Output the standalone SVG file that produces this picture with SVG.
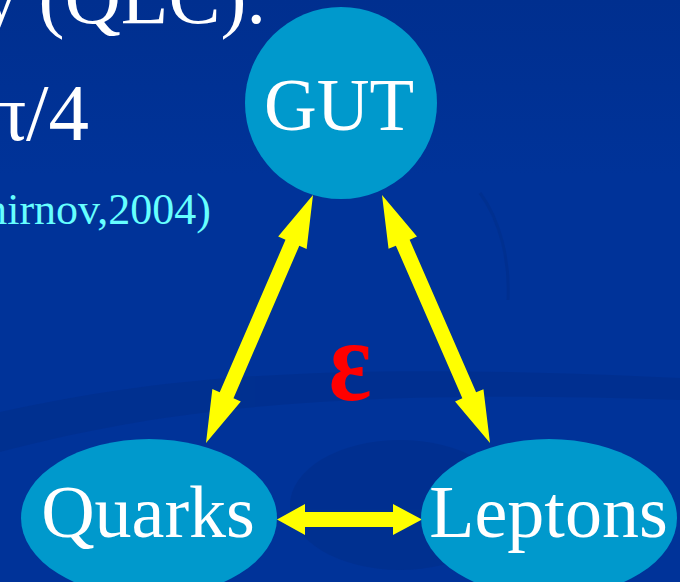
<svg xmlns="http://www.w3.org/2000/svg" width="680" height="582" viewBox="0 0 680 582">
<defs>
<linearGradient id="bg" x1="0" y1="0" x2="0" y2="1">
<stop offset="0" stop-color="#002f8f"/>
<stop offset="0.3" stop-color="#003399"/>
<stop offset="1" stop-color="#003399"/>
</linearGradient>
<style>
.node{fill:#0099cc}
.lbl{font-family:"Liberation Serif","Times New Roman",serif;fill:#ffffff;text-anchor:middle}
.arrow{fill:#ffff00}
.big{font-family:"Liberation Serif","Times New Roman",serif;fill:#ffffff}
</style>
</defs>
<rect width="680" height="582" fill="url(#bg)"/>
<g id="background-swooshes" opacity="0.35">
<path d="M0,412 C150,380 300,360 680,378 L680,400 C330,388 160,410 0,452 Z" fill="#002a80"/>
<path d="M480,193 C500,220 510,260 508,300" fill="none" stroke="#002a80" stroke-width="3"/>
<ellipse cx="400" cy="505" rx="110" ry="65" fill="#002a80"/>
</g>
<g id="title-text">
<text class="big" x="-20" y="23" font-size="78">y (QLC).</text>
<text class="big" x="-15" y="140" font-size="81">π/4</text>
<text x="-27" y="224" font-size="44" font-family="Liberation Serif,Times New Roman,serif" fill="#66ffff">mirnov,2004)</text>
</g>
<g id="connectors">
<polygon class="arrow" points="206,443 240.83,401.39 233.49,398.22 299.29,245.72 306.63,248.89 313,195 278.17,236.61 285.51,239.78 219.71,392.28 212.37,389.11"/>
<polygon class="arrow" points="490,443 483.45,389.13 476.12,392.33 409.64,239.69 416.97,236.49 382,195 388.55,248.87 395.88,245.67 462.36,398.31 455.03,401.51"/>
<polygon class="arrow" points="277,519.5 305,504 305,512 393,512 393,504 422,519.5 393,535 393,527 305,527 305,535"/>
</g>
<g id="gut">
<circle class="node" cx="341" cy="103" r="96"/>
<text class="lbl" x="339" y="130" font-size="73">GUT</text>
</g>
<g id="quarks">
<ellipse class="node" cx="149" cy="518" rx="128" ry="79"/>
<text class="lbl" x="148" y="537" font-size="74">Quarks</text>
</g>
<g id="leptons">
<ellipse class="node" cx="549" cy="518" rx="128" ry="79"/>
<text class="lbl" x="548.5" y="537" font-size="74">Leptons</text>
</g>
<g id="epsilon">
<text transform="translate(350,400) scale(1,1.17)" x="0" y="0" font-size="100" font-weight="bold" font-family="Liberation Serif,Times New Roman,serif" fill="#ff0000" text-anchor="middle">ε</text>
</g>
</svg>
